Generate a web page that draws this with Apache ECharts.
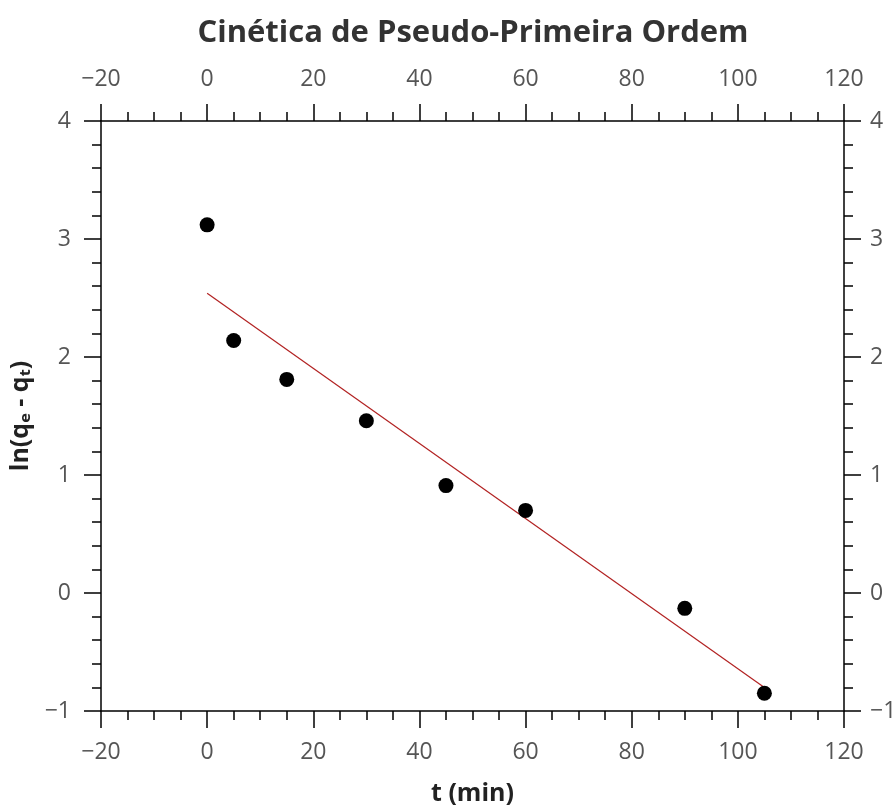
<!DOCTYPE html>
<html>
<head>
<meta charset="utf-8">
<script src="https://cdn.jsdelivr.net/npm/echarts@6/dist/echarts.min.js"></script>
<style>
  html, body { margin: 0; padding: 0; background: #fff; overflow: hidden; }
  #chart { width: 893px; height: 808px; }
</style>
</head>
<body>
<div id="chart"></div>
<script>
// Time (min) and ln(qe - qt) measurements
const tMin = [0, 5, 15, 30, 45, 60, 90, 105];
const lnQ = [3.12, 2.14, 1.81, 1.46, 0.91, 0.70, -0.13, -0.85];

// Linear fit endpoints
const fitT = [0, 105];
const fitLnQ = [2.54, -0.80];

const xTicks = { min: -20, max: 120, interval: 20 };
const yTicks = { min: -1, max: 4, interval: 1 };

const FONT = '"Open Sans", "Noto Sans", sans-serif';
const minus = v => String(v).replace('-', '\u2212');

function axisStyle(base) {
  return Object.assign({
    axisLine: { show: true, onZero: false, lineStyle: { color: '#000', width: 1.5 } },
    axisTick: { show: true, inside: false, length: 17, lineStyle: { color: '#000', width: 1.5 } },
    minorTick: { show: true, length: 9, lineStyle: { color: '#000', width: 1.5 } },
    splitLine: { show: false },
    minorSplitLine: { show: false },
    axisLabel: { color: '#555', fontSize: 23, fontFamily: FONT, margin: 30, formatter: minus }
  }, base);
}

const chart = echarts.init(document.getElementById('chart'), null, { renderer: 'canvas', width: 893, height: 808 });

chart.setOption({
  backgroundColor: '#fff',
  animation: false,
  title: {
    text: 'Cinética de Pseudo-Primeira Ordem',
    left: 468,
    top: 13,
    textAlign: 'center',
    textStyle: { fontFamily: FONT, fontWeight: 'bold', fontSize: 31, color: '#333' }
  },
  grid: { left: 101, right: 49, top: 121, bottom: 97, containLabel: false, outerBoundsMode: 'none' },
  xAxis: [
    axisStyle({
      type: 'value', position: 'bottom',
      min: xTicks.min, max: xTicks.max, interval: xTicks.interval,
      minorTick: { show: true, splitNumber: 4, length: 9, lineStyle: { color: '#000', width: 1.5 } },
      name: 't (min)', nameLocation: 'middle', nameGap: 70,
      nameTextStyle: { fontFamily: FONT, fontWeight: 'bold', fontSize: 25, color: '#222' }
    }),
    axisStyle({
      type: 'value', position: 'top',
      min: xTicks.min, max: xTicks.max, interval: xTicks.interval,
      minorTick: { show: true, splitNumber: 4, length: 9, lineStyle: { color: '#000', width: 1.5 } }
    })
  ],
  yAxis: [
    axisStyle({
      type: 'value', position: 'left',
      min: yTicks.min, max: yTicks.max, interval: yTicks.interval,
      minorTick: { show: true, splitNumber: 5, length: 9, lineStyle: { color: '#000', width: 1.5 } },
      name: 'ln(qₑ - qₜ)', nameLocation: 'middle', nameGap: 57, nameRotate: 90,
      nameTextStyle: { fontFamily: FONT, fontWeight: 'bold', fontSize: 25, color: '#222' }
    }),
    axisStyle({
      type: 'value', position: 'right',
      min: yTicks.min, max: yTicks.max, interval: yTicks.interval,
      minorTick: { show: true, splitNumber: 5, length: 9, lineStyle: { color: '#000', width: 1.5 } },
      axisLabel: { color: '#555', fontSize: 23, fontFamily: FONT, margin: 26, formatter: minus }
    })
  ],
  series: [
    {
      type: 'line',
      data: fitT.map((t, i) => [t, fitLnQ[i]]),
      showSymbol: false,
      lineStyle: { color: '#b22222', width: 1.2 },
      z: 2
    },
    {
      type: 'scatter',
      data: tMin.map((t, i) => [t, lnQ[i]]),
      symbol: 'circle',
      symbolSize: 15,
      itemStyle: { color: '#000', opacity: 1 },
      z: 3
    }
  ]
});
</script>
</body>
</html>
